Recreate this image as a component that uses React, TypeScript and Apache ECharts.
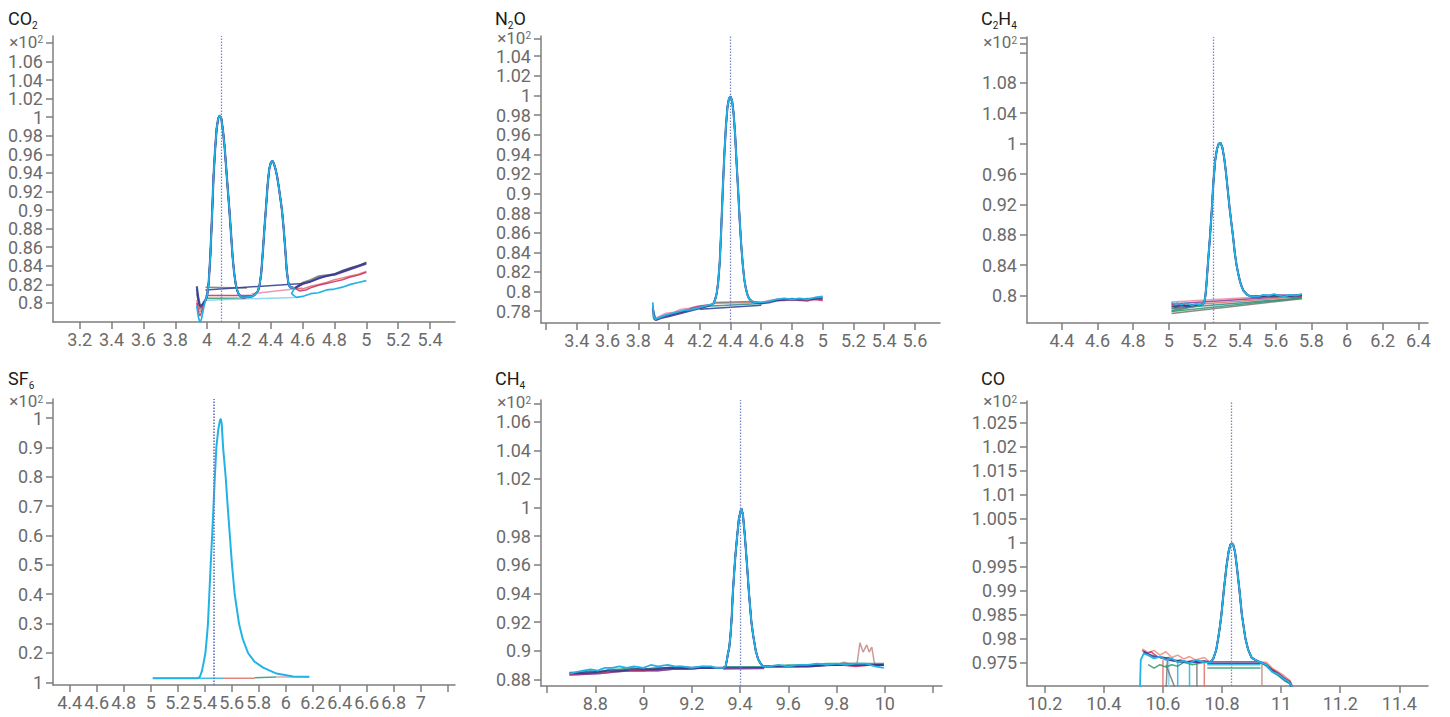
import React, { useEffect, useRef } from 'react';
import * as echarts from 'echarts';

type P = [number, number];

// ---------------- CO2 ----------------
const co2XTicks = [3.2, 3.4, 3.6, 3.8, 4, 4.2, 4.4, 4.6, 4.8, 5, 5.2, 5.4];
const co2XLabels = [3.2, 3.4, 3.6, 3.8, 4, 4.2, 4.4, 4.6, 4.8, 5, 5.2, 5.4];
const co2YLabels = [0.8, 0.82, 0.84, 0.86, 0.88, 0.9, 0.92, 0.94, 0.96, 0.98, 1, 1.02, 1.04, 1.06];
const co2YExtraTicks: number[] = [];
const co2Exp = 1.08;
const co2Marker = 4.088;
const co2Peak: P[] = [[3.99,0.803],[4.0,0.808],[4.01,0.822],[4.02,0.85],[4.03,0.89],[4.04,0.935],[4.05,0.965],[4.06,0.988],[4.07,0.999],[4.08,1.002],[4.09,0.998],[4.1,0.985],[4.11,0.968],[4.12,0.945],[4.13,0.922],[4.14,0.9],[4.15,0.875],[4.16,0.85],[4.17,0.832],[4.18,0.82],[4.19,0.813],[4.2,0.809],[4.22,0.806],[4.24,0.806],[4.26,0.807],[4.28,0.807],[4.3,0.809],[4.32,0.813],[4.33,0.82],[4.34,0.832],[4.35,0.855],[4.36,0.88],[4.37,0.903],[4.38,0.927],[4.39,0.944],[4.4,0.951],[4.41,0.953],[4.42,0.95],[4.43,0.944],[4.44,0.936],[4.45,0.925],[4.46,0.913],[4.47,0.9],[4.48,0.882],[4.49,0.86],[4.5,0.835],[4.51,0.822],[4.52,0.817],[4.55,0.816]];
const co2HeadNavy: P[] = [[3.935,0.818],[3.945,0.805],[3.955,0.797],[3.97,0.798],[3.98,0.801]];
const co2HeadCyan: P[] = [[3.935,0.797],[3.945,0.785],[3.955,0.779],[3.965,0.783],[3.98,0.796]];
const co2HeadCrimson: P[] = [[3.935,0.8],[3.945,0.79],[3.955,0.786],[3.965,0.79],[3.98,0.799]];
const co2HeadGrey: P[] = [[3.935,0.81],[3.945,0.8],[3.955,0.793],[3.97,0.797],[3.98,0.8]];
const co2HeadPurple: P[] = [[3.935,0.815],[3.95,0.798],[3.965,0.795],[3.98,0.8]];
const co2HeadRed: P[] = [[3.935,0.803],[3.95,0.79],[3.965,0.792],[3.98,0.8]];
const co2TailNavy: P[] = [[4.6,0.821],[4.65,0.823],[4.7,0.827],[4.75,0.829],[4.8,0.831],[4.85,0.834],[4.9,0.837],[4.95,0.84],[5.0,0.843]];
const co2TailGrey: P[] = [[4.6,0.822],[4.65,0.825],[4.7,0.829],[4.75,0.83],[4.8,0.831],[4.85,0.835],[4.9,0.838],[4.95,0.84],[5.0,0.844]];
const co2TailPurple: P[] = [[4.6,0.82],[4.65,0.823],[4.7,0.826],[4.75,0.829],[4.8,0.83],[4.85,0.833],[4.9,0.836],[4.95,0.839],[5.0,0.842]];
const co2TailCrimson: P[] = [[4.58,0.813],[4.62,0.814],[4.66,0.817],[4.7,0.819],[4.75,0.821],[4.8,0.823],[4.85,0.825],[4.9,0.828],[4.95,0.83],[5.0,0.833]];
const co2TailRed: P[] = [[4.6,0.815],[4.65,0.818],[4.7,0.82],[4.75,0.822],[4.8,0.825],[4.85,0.827],[4.9,0.829],[4.95,0.831],[5.0,0.834]];
const co2TailCyan: P[] = [[4.53,0.81],[4.56,0.806],[4.6,0.807],[4.65,0.81],[4.7,0.811],[4.75,0.814],[4.8,0.815],[4.85,0.817],[4.9,0.82],[4.95,0.822],[5.0,0.824]];
const co2BaseGrey: P[] = [[3.99,0.817],[4.25,0.816]];
const co2BaseNavy: P[] = [[3.99,0.814],[4.6,0.821]];
const co2BaseCrimson: P[] = [[3.99,0.808],[4.3,0.808]];
const co2BaseGreen: P[] = [[3.99,0.805],[4.22,0.805]];
const co2BaseCyan: P[] = [[3.99,0.803],[4.55,0.806]];
const co2BasePink: P[] = [[4.28,0.81],[4.6,0.816]];

// ---------------- N2O ----------------
const n2oXTicks = [3.2, 3.4, 3.6, 3.8, 4, 4.2, 4.4, 4.6, 4.8, 5, 5.2, 5.4, 5.6];
const n2oXLabels = [3.4, 3.6, 3.8, 4, 4.2, 4.4, 4.6, 4.8, 5, 5.2, 5.4, 5.6];
const n2oYLabels = [0.78, 0.8, 0.82, 0.84, 0.86, 0.88, 0.9, 0.92, 0.94, 0.96, 0.98, 1, 1.02, 1.04];
const n2oYExtraTicks: number[] = [];
const n2oExp = 1.058;
const n2oMarker = 4.4;
const n2oPeak: P[] = [[4.28,0.787],[4.29,0.788],[4.3,0.792],[4.31,0.798],[4.32,0.81],[4.33,0.83],[4.34,0.865],[4.35,0.905],[4.36,0.94],[4.37,0.968],[4.38,0.988],[4.39,0.997],[4.4,0.999],[4.41,0.995],[4.42,0.982],[4.43,0.96],[4.44,0.93],[4.45,0.902],[4.46,0.872],[4.47,0.847],[4.48,0.827],[4.49,0.812],[4.5,0.803],[4.51,0.797],[4.52,0.793],[4.54,0.79],[4.56,0.789]];
const n2oHeadCyan: P[] = [[3.894,0.789],[3.9,0.775],[3.91,0.772],[3.93,0.773],[3.96,0.775],[4.0,0.777],[4.05,0.779],[4.1,0.781],[4.15,0.782],[4.2,0.784],[4.25,0.786]];
const n2oHeadCrimson: P[] = [[3.894,0.786],[3.9,0.774],[3.92,0.771],[3.95,0.774],[4.0,0.776],[4.05,0.778],[4.1,0.78],[4.15,0.783],[4.2,0.785],[4.25,0.786]];
const n2oHeadPink: P[] = [[3.894,0.784],[3.91,0.773],[3.94,0.775],[3.98,0.778],[4.03,0.779],[4.08,0.782],[4.13,0.783],[4.18,0.785],[4.23,0.786]];
const n2oHeadNavy: P[] = [[3.894,0.783],[3.91,0.771],[3.95,0.773],[4.0,0.775],[4.05,0.777],[4.1,0.779],[4.15,0.781],[4.2,0.783],[4.25,0.785]];
const n2oHeadGreen: P[] = [[3.894,0.782],[3.9,0.772],[3.93,0.773],[3.97,0.776],[4.02,0.777],[4.07,0.779],[4.12,0.781],[4.17,0.783],[4.22,0.784]];
const n2oTailCyan: P[] = [[4.6,0.789],[4.65,0.79],[4.7,0.792],[4.75,0.793],[4.8,0.792],[4.85,0.793],[4.9,0.792],[4.95,0.794],[5.0,0.795]];
const n2oTailCrimson: P[] = [[4.6,0.788],[4.65,0.79],[4.7,0.791],[4.75,0.791],[4.8,0.792],[4.85,0.791],[4.9,0.791],[4.95,0.792],[5.0,0.791]];
const n2oTailPink: P[] = [[4.6,0.789],[4.65,0.791],[4.7,0.792],[4.75,0.793],[4.8,0.791],[4.85,0.792],[4.9,0.79],[4.95,0.793],[5.0,0.792]];
const n2oTailNavy: P[] = [[4.6,0.788],[4.65,0.789],[4.7,0.791],[4.75,0.792],[4.8,0.792],[4.85,0.792],[4.9,0.792],[4.95,0.793],[5.0,0.793]];
const n2oTailGreen: P[] = [[4.6,0.789],[4.65,0.79],[4.7,0.792],[4.75,0.792],[4.8,0.793],[4.85,0.792],[4.9,0.793],[4.95,0.793],[5.0,0.794]];
const n2oBaseSalmon: P[] = [[4.29,0.788],[4.55,0.789]];
const n2oBaseNavy: P[] = [[4.2,0.782],[4.6,0.786]];
const n2oBaseTeal: P[] = [[4.25,0.785],[4.6,0.788]];
const n2oBaseGrey: P[] = [[4.3,0.789],[4.55,0.79]];

// ---------------- C2H4 ----------------
const c2h4XTicks = [4.4, 4.6, 4.8, 5, 5.2, 5.4, 5.6, 5.8, 6, 6.2, 6.4];
const c2h4XLabels = [4.4, 4.6, 4.8, 5, 5.2, 5.4, 5.6, 5.8, 6, 6.2, 6.4];
const c2h4YLabels = [0.8, 0.84, 0.88, 0.92, 0.96, 1, 1.04, 1.08];
const c2h4YExtraTicks = [1.12, 1.139];
const c2h4Exp = 1.132;
const c2h4Marker = 5.248;
const c2h4Peak: P[] = [[5.19,0.789],[5.2,0.792],[5.205,0.8],[5.21,0.812],[5.22,0.845],[5.23,0.875],[5.24,0.91],[5.25,0.95],[5.26,0.978],[5.27,0.993],[5.28,1.0],[5.29,1.001],[5.3,0.995],[5.31,0.982],[5.32,0.963],[5.33,0.94],[5.34,0.917],[5.35,0.897],[5.36,0.878],[5.37,0.856],[5.38,0.84],[5.39,0.828],[5.4,0.818],[5.41,0.811],[5.42,0.806],[5.44,0.801],[5.46,0.799]];
const c2h4HeadCyan: P[] = [[5.015,0.791],[5.03,0.789],[5.05,0.79],[5.07,0.788],[5.09,0.79],[5.11,0.789],[5.13,0.787],[5.15,0.789],[5.17,0.788]];
const c2h4HeadNavy: P[] = [[5.015,0.786],[5.04,0.785],[5.07,0.787],[5.1,0.786],[5.13,0.787],[5.16,0.788],[5.18,0.788]];
const c2h4HeadCrimson: P[] = [[5.015,0.789],[5.04,0.787],[5.07,0.789],[5.1,0.787],[5.13,0.788],[5.16,0.787],[5.18,0.788]];
const c2h4HeadGrey: P[] = [[5.015,0.783],[5.04,0.782],[5.08,0.784],[5.12,0.785],[5.16,0.787],[5.18,0.788]];
const c2h4HeadGreen: P[] = [[5.015,0.78],[5.05,0.781],[5.09,0.783],[5.13,0.785],[5.17,0.787]];
const c2h4TailCyan: P[] = [[5.5,0.799],[5.53,0.801],[5.56,0.8],[5.59,0.802],[5.62,0.8],[5.65,0.799],[5.68,0.801],[5.71,0.8],[5.747,0.802]];
const c2h4TailNavy: P[] = [[5.5,0.799],[5.55,0.8],[5.6,0.8],[5.65,0.8],[5.7,0.8],[5.747,0.801]];
const c2h4TailCrimson: P[] = [[5.5,0.8],[5.55,0.799],[5.6,0.801],[5.65,0.8],[5.7,0.799],[5.747,0.8]];
const c2h4TailGrey: P[] = [[5.5,0.798],[5.55,0.798],[5.6,0.799],[5.65,0.799],[5.7,0.798],[5.747,0.798]];
const c2h4TailGreen: P[] = [[5.5,0.798],[5.55,0.799],[5.6,0.799],[5.65,0.8],[5.7,0.799],[5.747,0.799]];
const c2h4BasePink: P[] = [[5.015,0.7916],[5.747,0.8016]];
const c2h4BasePurple: P[] = [[5.015,0.789],[5.747,0.8]];
const c2h4BaseRed: P[] = [[5.015,0.786],[5.747,0.799]];
const c2h4BaseTeal: P[] = [[5.015,0.783],[5.747,0.797]];
const c2h4BaseGrey: P[] = [[5.015,0.7765],[5.747,0.796]];
const c2h4BaseGreen: P[] = [[5.015,0.779],[5.747,0.797]];

// ---------------- SF6 ----------------
const sf6XTicks = [4.4, 4.6, 4.8, 5, 5.2, 5.4, 5.6, 5.8, 6, 6.2, 6.4, 6.6, 6.8, 7, 7.2];
const sf6XLabels = [4.4, 4.6, 4.8, 5, 5.2, 5.4, 5.6, 5.8, 6, 6.2, 6.4, 6.6, 6.8, 7];
const sf6YLabels = [0.1, 0.2, 0.3, 0.4, 0.5, 0.6, 0.7, 0.8, 0.9, 1];
const sf6YText = ['1', '0.2', '0.3', '0.4', '0.5', '0.6', '0.7', '0.8', '0.9', '1'];
const sf6YExtraTicks: number[] = [];
const sf6Exp = 1.053;
const sf6Marker = 5.474;
const sf6Peak: P[] = [[5.35,0.114],[5.365,0.12],[5.38,0.14],[5.395,0.175],[5.405,0.2],[5.415,0.25],[5.424,0.3],[5.434,0.4],[5.444,0.5],[5.455,0.6],[5.465,0.7],[5.475,0.8],[5.486,0.9],[5.5,0.96],[5.512,0.99],[5.519,0.998],[5.526,0.98],[5.536,0.9],[5.555,0.8],[5.57,0.7],[5.586,0.6],[5.602,0.5],[5.622,0.4],[5.654,0.3],[5.68,0.25],[5.721,0.2],[5.77,0.17],[5.833,0.15],[5.932,0.13],[6.056,0.12],[6.175,0.119]];
const sf6Head: P[] = [[5.015,0.114],[5.2,0.114]];
const sf6BaseCyan: P[] = [[5.015,0.114],[5.535,0.114]];
const sf6BaseRed: P[] = [[5.535,0.1143],[5.77,0.1143]];
const sf6BaseGreen: P[] = [[5.77,0.116],[5.93,0.118]];
const sf6BasePink: P[] = [[5.93,0.118],[6.175,0.118]];

// ---------------- CH4 ----------------
const ch4XTicks = [8.6, 8.8, 9, 9.2, 9.4, 9.6, 9.8, 10, 10.2];
const ch4XLabels = [8.8, 9, 9.2, 9.4, 9.6, 9.8, 10];
const ch4YLabels = [0.88, 0.9, 0.92, 0.94, 0.96, 0.98, 1, 1.02, 1.04, 1.06];
const ch4YExtraTicks: number[] = [];
const ch4Exp = 1.0729;
const ch4Marker = 9.404;
const ch4Peak: P[] = [[9.33,0.888],[9.34,0.889],[9.345,0.893],[9.35,0.898],[9.355,0.902],[9.36,0.91],[9.365,0.922],[9.37,0.94],[9.375,0.953],[9.38,0.965],[9.388,0.98],[9.395,0.992],[9.405,0.9995],[9.412,0.995],[9.42,0.98],[9.428,0.962],[9.437,0.94],[9.447,0.92],[9.455,0.91],[9.465,0.9],[9.475,0.894],[9.485,0.891],[9.495,0.889]];
const ch4HeadCyan: P[] = [[8.693,0.884],[8.72,0.885],[8.75,0.886],[8.78,0.887],[8.81,0.886],[8.84,0.888],[8.87,0.888],[8.9,0.889],[8.93,0.888],[8.96,0.889],[9.0,0.888],[9.03,0.89],[9.06,0.889],[9.1,0.89],[9.13,0.889],[9.16,0.889],[9.2,0.888],[9.24,0.889],[9.28,0.889],[9.3,0.888]];
const ch4HeadCrimson: P[] = [[8.693,0.8835],[8.73,0.884],[8.77,0.884],[8.81,0.885],[8.85,0.885],[8.9,0.886],[8.95,0.886],[9.0,0.886],[9.05,0.887],[9.1,0.887],[9.15,0.888],[9.2,0.887],[9.25,0.888],[9.3,0.888]];
const ch4HeadGreen: P[] = [[8.693,0.884],[8.74,0.885],[8.78,0.886],[8.82,0.885],[8.86,0.887],[8.9,0.887],[8.95,0.888],[9.0,0.887],[9.05,0.888],[9.1,0.888],[9.15,0.889],[9.2,0.888],[9.25,0.889],[9.3,0.888]];
const ch4HeadNavy: P[] = [[8.693,0.8845],[8.75,0.8845],[8.8,0.885],[8.85,0.886],[8.9,0.886],[8.95,0.887],[9.0,0.887],[9.05,0.887],[9.1,0.888],[9.15,0.888],[9.2,0.888],[9.25,0.888],[9.3,0.888]];
const ch4HeadPurple: P[] = [[8.693,0.883],[8.76,0.8835],[8.82,0.884],[8.88,0.885],[8.94,0.886],[9.0,0.886],[9.06,0.886],[9.12,0.887],[9.18,0.887],[9.24,0.888],[9.3,0.888]];
const ch4TailCyan: P[] = [[9.52,0.889],[9.56,0.89],[9.6,0.889],[9.64,0.89],[9.68,0.89],[9.72,0.891],[9.76,0.89],[9.8,0.891],[9.84,0.89],[9.88,0.891],[9.92,0.891],[9.96,0.889],[9.996,0.888]];
const ch4TailCrimson: P[] = [[9.52,0.889],[9.58,0.889],[9.64,0.889],[9.7,0.89],[9.76,0.89],[9.82,0.89],[9.88,0.889],[9.94,0.89],[9.996,0.89]];
const ch4TailGreen: P[] = [[9.52,0.889],[9.6,0.89],[9.68,0.89],[9.76,0.891],[9.84,0.891],[9.92,0.891],[9.996,0.891]];
const ch4TailNavy: P[] = [[9.52,0.889],[9.6,0.889],[9.68,0.889],[9.76,0.89],[9.84,0.89],[9.92,0.89],[9.996,0.89]];
const ch4TailPurple: P[] = [[9.52,0.889],[9.6,0.889],[9.7,0.889],[9.8,0.89],[9.9,0.89],[9.996,0.89]];
const ch4TailRose: P[] = [[9.52,0.889],[9.6,0.889],[9.7,0.89],[9.8,0.89],[9.83,0.892],[9.85,0.891],[9.885,0.891],[9.897,0.9056],[9.91,0.899],[9.925,0.904],[9.935,0.899],[9.946,0.9024],[9.955,0.893],[9.96,0.89],[9.996,0.891]];
const ch4BaseTeal: P[] = [[9.33,0.8885],[9.5,0.8885]];
const ch4BaseNavy: P[] = [[9.33,0.8878],[9.5,0.888]];
const ch4BasePurple: P[] = [[9.33,0.8872],[9.5,0.8875]];

// ---------------- CO ----------------
const coXTicks = [10.2, 10.4, 10.6, 10.8, 11, 11.2, 11.4];
const coXLabels = [10.2, 10.4, 10.6, 10.8, 11, 11.2, 11.4];
const coYLabels = [0.975, 0.98, 0.985, 0.99, 0.995, 1, 1.005, 1.01, 1.015, 1.02, 1.025];
const coYExtraTicks: number[] = [];
const coExp = 1.0292;
const coMarker = 10.828;
const coPeak: P[] = [[10.76,0.975],[10.77,0.9757],[10.78,0.9775],[10.787,0.98],[10.793,0.9825],[10.798,0.985],[10.806,0.99],[10.815,0.995],[10.822,0.998],[10.828,0.9995],[10.833,0.9998],[10.838,0.9995],[10.844,0.998],[10.85,0.995],[10.859,0.99],[10.867,0.985],[10.873,0.9825],[10.879,0.98],[10.888,0.9777],[10.9,0.976],[10.912,0.9755],[10.93,0.975]];
const coHeadCyan: P[] = [[10.52,0.965],[10.525,0.9755],[10.535,0.9768],[10.55,0.9765],[10.57,0.9758],[10.59,0.9762],[10.61,0.9755],[10.63,0.9758],[10.65,0.975],[10.67,0.9753],[10.69,0.9748],[10.71,0.9755],[10.74,0.975]];
const coHeadCrimson: P[] = [[10.53,0.9775],[10.545,0.9768],[10.56,0.9772],[10.58,0.9762],[10.6,0.9758],[10.62,0.976],[10.64,0.9752],[10.66,0.9755],[10.68,0.975],[10.7,0.9754],[10.72,0.975],[10.74,0.9752]];
const coHeadSalmon: P[] = [[10.53,0.9778],[10.55,0.977],[10.57,0.9775],[10.59,0.9765],[10.61,0.9772],[10.63,0.976],[10.65,0.9765],[10.67,0.9757],[10.69,0.9762],[10.71,0.9755],[10.74,0.976]];
const coHeadGreen: P[] = [[10.55,0.9745],[10.57,0.9738],[10.59,0.9745],[10.61,0.974],[10.63,0.9745],[10.65,0.9742],[10.67,0.975],[10.7,0.9745],[10.74,0.975]];
const coHeadNavy: P[] = [[10.535,0.9772],[10.55,0.9767],[10.57,0.9762],[10.6,0.976],[10.63,0.9755],[10.66,0.9752],[10.7,0.975],[10.74,0.9752]];
const coHeadGrey: P[] = [[10.61,0.968],[10.615,0.9755],[10.64,0.9752],[10.67,0.975],[10.7,0.9752],[10.74,0.975]];
const coTailCyan: P[] = [[10.95,0.9745],[10.97,0.973],[10.99,0.9725],[11.01,0.9715],[11.025,0.971],[11.035,0.9702],[11.04,0.969]];
const coTailCrimson: P[] = [[10.95,0.9745],[10.97,0.9735],[10.99,0.9728],[11.01,0.9718],[11.03,0.971],[11.045,0.969]];
const coTailSalmon: P[] = [[10.95,0.975],[10.97,0.9738],[10.99,0.973],[11.01,0.9722],[11.03,0.9712],[11.045,0.969]];
const coTailGreen: P[] = [[10.95,0.9742],[10.97,0.973],[10.99,0.9722],[11.01,0.9712],[11.03,0.9705],[11.04,0.969]];
const coTailNavy: P[] = [[10.95,0.9745],[10.97,0.9732],[10.99,0.9725],[11.01,0.9715],[11.03,0.9707],[11.04,0.969]];
const coTailGrey: P[] = [[10.95,0.9745],[10.98,0.973],[11.0,0.972],[11.03,0.9708],[11.04,0.969]];
const coDropRed1: P[] = [[10.6,0.965],[10.6,0.9755]];
const coDropLightBlue: P[] = [[10.62,0.965],[10.62,0.9752]];
const coDropCyan1: P[] = [[10.65,0.965],[10.65,0.975]];
const coDropCyan2: P[] = [[10.69,0.965],[10.69,0.9748]];
const coDropGrey: P[] = [[10.715,0.965],[10.715,0.975]];
const coDropRed2: P[] = [[10.74,0.965],[10.74,0.9752]];
const coDropRose: P[] = [[10.935,0.965],[10.935,0.975]];
const coDiagGrey: P[] = [[10.61,0.9745],[10.64,0.9698]];
const coBaseMagenta: P[] = [[10.75,0.9751],[10.93,0.9751]];
const coBaseGreen: P[] = [[10.75,0.9738],[10.93,0.9738]];
const coBaseCyan: P[] = [[10.75,0.9745],[10.93,0.9745]];
const coBaseNavy: P[] = [[10.75,0.9748],[10.93,0.9748]];

// ---------------- styling ----------------
const C = {
  navy: '#2c3a8e', cyan: '#22b3e6', crimson: '#c62a63', red: '#e0706a', grey: '#767676',
  green: '#2a9a6c', purple: '#7a3d9a', rose: '#c48888', pink: '#e58aa8', teal: '#2a8a8c',
  lightblue: '#7fd0f0', salmon: '#ec8a7a', magenta: '#c0308a',
};
const FONT = 'Roboto';
const LABEL_COLOR = '#6b6b6b';
const AXIS_COLOR = '#7e7e7e';

const fmt = (v: number) => String(parseFloat(v.toFixed(4)));
const cat = (...parts: P[][]): P[] => ([] as P[]).concat(...parts);

type Trace = { data: P[]; color: string; width?: number; opacity?: number };
type Panel = {
  title: string; titleLeft: number; titleTop: number;
  grid: { left: number; top: number; width: number; height: number };
  xMin: number; xMax: number; yMin: number; yMax: number;
  xTicks: number[]; xLabels: number[]; yLabels: number[]; yText?: string[];
  yExtraTicks: number[]; exp: number; marker: number; markerWidth?: number;
  base: Trace[]; traces: Trace[];
};

const panels: Panel[] = [
  {
    title: '{m|CO}{s|2}', titleLeft: 8, titleTop: 6,
    grid: { left: 53, top: 36, width: 402, height: 286 },
    xMin: 3.032, xMax: 5.557, yMin: 0.7795, yMax: 1.0875,
    xTicks: co2XTicks, xLabels: co2XLabels, yLabels: co2YLabels, yExtraTicks: co2YExtraTicks,
    exp: co2Exp, marker: co2Marker,
    base: [
      { data: co2BaseGrey, color: C.grey }, { data: co2BaseNavy, color: C.navy },
      { data: co2BaseCrimson, color: C.crimson }, { data: co2BaseGreen, color: C.green },
      { data: co2BaseCyan, color: C.lightblue }, { data: co2BasePink, color: C.pink },
    ],
    traces: [
      { data: cat(co2HeadGrey, co2Peak, co2TailGrey), color: C.grey },
      { data: cat(co2HeadPurple, co2Peak, co2TailPurple), color: C.purple },
      { data: cat(co2HeadRed, co2Peak, co2TailRed), color: C.red },
      { data: cat(co2HeadCrimson, co2Peak, co2TailCrimson), color: C.crimson },
      { data: cat(co2HeadNavy, co2Peak, co2TailNavy), color: C.navy, width: 2.2 },
      { data: cat(co2HeadCyan, co2Peak, co2TailCyan), color: C.cyan, width: 1.7, opacity: 1 },
    ],
  },
  {
    title: '{m|N}{s|2}{m|O}', titleLeft: 495, titleTop: 6,
    grid: { left: 541, top: 36, width: 399, height: 287 },
    xMin: 3.167, xMax: 5.763, yMin: 0.768, yMax: 1.0606,
    xTicks: n2oXTicks, xLabels: n2oXLabels, yLabels: n2oYLabels, yExtraTicks: n2oYExtraTicks,
    exp: n2oExp, marker: n2oMarker,
    base: [
      { data: n2oBaseSalmon, color: C.salmon }, { data: n2oBaseNavy, color: C.navy },
      { data: n2oBaseTeal, color: C.teal }, { data: n2oBaseGrey, color: C.grey },
    ],
    traces: [
      { data: cat(n2oHeadGreen, n2oPeak, n2oTailGreen), color: C.green },
      { data: cat(n2oHeadPink, n2oPeak, n2oTailPink), color: C.pink },
      { data: cat(n2oHeadCrimson, n2oPeak, n2oTailCrimson), color: C.crimson },
      { data: cat(n2oHeadNavy, n2oPeak, n2oTailNavy), color: C.navy, width: 2.1 },
      { data: cat(n2oHeadCyan, n2oPeak, n2oTailCyan), color: C.cyan, width: 1.8, opacity: 1 },
    ],
  },
  {
    title: '{m|C}{s|2}{m|H}{s|4}', titleLeft: 981, titleTop: 6,
    grid: { left: 1027, top: 37, width: 401, height: 286 },
    xMin: 4.204, xMax: 6.454, yMin: 0.764, yMax: 1.1403,
    xTicks: c2h4XTicks, xLabels: c2h4XLabels, yLabels: c2h4YLabels, yExtraTicks: c2h4YExtraTicks,
    exp: c2h4Exp, marker: c2h4Marker,
    base: [
      { data: c2h4BasePink, color: C.pink }, { data: c2h4BasePurple, color: C.purple },
      { data: c2h4BaseRed, color: C.red }, { data: c2h4BaseTeal, color: C.teal },
      { data: c2h4BaseGrey, color: C.grey }, { data: c2h4BaseGreen, color: C.green },
    ],
    traces: [
      { data: cat(c2h4HeadGreen, c2h4Peak, c2h4TailGreen), color: C.green },
      { data: cat(c2h4HeadGrey, c2h4Peak, c2h4TailGrey), color: C.grey },
      { data: cat(c2h4HeadCrimson, c2h4Peak, c2h4TailCrimson), color: C.crimson },
      { data: cat(c2h4HeadNavy, c2h4Peak, c2h4TailNavy), color: C.navy, width: 2.1 },
      { data: cat(c2h4HeadCyan, c2h4Peak, c2h4TailCyan), color: C.cyan, width: 1.8, opacity: 1 },
    ],
  },
  {
    title: '{m|SF}{s|6}', titleLeft: 8, titleTop: 366,
    grid: { left: 53, top: 399, width: 402, height: 286 },
    xMin: 4.276, xMax: 7.254, yMin: 0.091, yMax: 1.0648,
    xTicks: sf6XTicks, xLabels: sf6XLabels, yLabels: sf6YLabels, yText: sf6YText, yExtraTicks: sf6YExtraTicks,
    exp: sf6Exp, marker: sf6Marker, markerWidth: 2,
    base: [
      { data: sf6BaseCyan, color: C.cyan }, { data: sf6BaseRed, color: C.red },
      { data: sf6BaseGreen, color: C.green }, { data: sf6BasePink, color: C.pink },
    ],
    traces: [
      { data: cat(sf6Head, sf6Peak), color: C.cyan, width: 2, opacity: 1 },
    ],
  },
  {
    title: '{m|CH}{s|4}', titleLeft: 495, titleTop: 366,
    grid: { left: 541, top: 400, width: 401, height: 286 },
    xMin: 8.575, xMax: 10.237, yMin: 0.8753, yMax: 1.0752,
    xTicks: ch4XTicks, xLabels: ch4XLabels, yLabels: ch4YLabels, yExtraTicks: ch4YExtraTicks,
    exp: ch4Exp, marker: ch4Marker,
    base: [
      { data: ch4BaseTeal, color: C.teal, width: 2.4 }, { data: ch4BaseNavy, color: C.navy },
      { data: ch4BasePurple, color: C.purple },
    ],
    traces: [
      { data: cat(ch4HeadPurple, ch4Peak, ch4TailRose), color: C.rose },
      { data: cat(ch4HeadPurple, ch4Peak, ch4TailPurple), color: C.purple },
      { data: cat(ch4HeadGreen, ch4Peak, ch4TailGreen), color: C.green },
      { data: cat(ch4HeadCrimson, ch4Peak, ch4TailCrimson), color: C.crimson },
      { data: cat(ch4HeadNavy, ch4Peak, ch4TailNavy), color: C.navy, width: 2.1 },
      { data: cat(ch4HeadCyan, ch4Peak, ch4TailCyan), color: C.cyan, width: 1.8, opacity: 1 },
    ],
  },
  {
    title: '{m|CO}', titleLeft: 981, titleTop: 366,
    grid: { left: 1027, top: 401, width: 401, height: 285 },
    xMin: 10.14, xMax: 11.497, yMin: 0.97006, yMax: 1.0295,
    xTicks: coXTicks, xLabels: coXLabels, yLabels: coYLabels, yExtraTicks: coYExtraTicks,
    exp: coExp, marker: coMarker,
    base: [
      { data: coDropRed1, color: C.red }, { data: coDropLightBlue, color: C.lightblue },
      { data: coDropCyan1, color: C.cyan }, { data: coDropCyan2, color: C.cyan },
      { data: coDropGrey, color: C.grey }, { data: coDropRed2, color: C.red },
      { data: coDropRose, color: C.rose }, { data: coDiagGrey, color: C.grey },
      { data: coBaseMagenta, color: C.magenta }, { data: coBaseGreen, color: C.green },
      { data: coBaseCyan, color: C.cyan }, { data: coBaseNavy, color: C.navy },
    ],
    traces: [
      { data: cat(coHeadGrey, coPeak, coTailGrey), color: C.grey },
      { data: cat(coHeadGreen, coPeak, coTailGreen), color: C.green },
      { data: cat(coHeadSalmon, coPeak, coTailSalmon), color: C.salmon },
      { data: cat(coHeadCrimson, coPeak, coTailCrimson), color: C.crimson },
      { data: cat(coHeadNavy, coPeak, coTailNavy), color: C.navy, width: 2.1 },
      { data: cat(coHeadCyan, coPeak, coTailCyan), color: C.cyan, width: 1.8, opacity: 1 },
    ],
  },
];

const richMain = { fontSize: 18, fontFamily: FONT, fontWeight: 'normal', color: '#1c1c1c', lineHeight: 24 };
const richSub = { fontSize: 10, fontFamily: FONT, fontWeight: 'normal', color: '#1c1c1c', lineHeight: 10, verticalAlign: 'bottom' };

function buildOption() {
  const grid: any[] = [];
  const xAxis: any[] = [];
  const yAxis: any[] = [];
  const series: any[] = [];
  const title: any[] = [];
  panels.forEach((p, i) => {
    title.push({
      text: p.title, left: p.titleLeft, top: p.titleTop, padding: 0,
      textStyle: { fontWeight: 'normal', fontFamily: FONT, rich: { m: richMain, s: richSub } },
    });
    grid.push({ ...p.grid, containLabel: false, outerBoundsMode: 'none' });
    const axisLineStyle = { color: AXIS_COLOR, width: 1.5 };
    xAxis.push({
      type: 'value', gridIndex: i, min: p.xMin, max: p.xMax,
      axisLine: { show: true, onZero: false, lineStyle: axisLineStyle },
      axisTick: { show: true, length: 7, lineStyle: axisLineStyle, customValues: p.xTicks },
      axisLabel: {
        customValues: p.xLabels, fontSize: 18, fontFamily: FONT, color: LABEL_COLOR, margin: 8,
        hideOverlap: false,
        formatter: (v: number) => fmt(v),
      },
      splitLine: { show: false },
    });
    const yTicks = [...p.yLabels, ...p.yExtraTicks, p.exp];
    yAxis.push({
      type: 'value', gridIndex: i, min: p.yMin, max: p.yMax,
      axisLine: { show: true, onZero: false, lineStyle: axisLineStyle },
      axisTick: { show: true, length: 7, lineStyle: axisLineStyle, customValues: yTicks },
      axisLabel: {
        customValues: p.yLabels, fontSize: 18, fontFamily: FONT, color: LABEL_COLOR, margin: 10,
        hideOverlap: false,
        formatter: (v: number) => {
          if (p.yText) {
            const k = p.yLabels.findIndex((u) => Math.abs(u - v) < 1e-6);
            if (k >= 0) return p.yText[k];
          }
          return fmt(v);
        },
      },
      splitLine: { show: false },
    });
    const mk = (t: Trace, z: number) => ({
      type: 'line', xAxisIndex: i, yAxisIndex: i, data: t.data,
      showSymbol: false, symbol: 'none', silent: true, clip: true, z,
      lineStyle: { color: t.color, width: t.width ?? 1.5, opacity: t.opacity ?? 0.85 },
      itemStyle: { color: t.color },
    });
    p.base.forEach((t) => series.push(mk(t, 2)));
    p.traces.forEach((t) => series.push(mk(t, 3)));
    series.push({
      type: 'line', xAxisIndex: i, yAxisIndex: i, data: [], silent: true, z: 5,
      markLine: {
        silent: true, symbol: ['none', 'none'], label: { show: false },
        lineStyle: { color: '#6a7cc6', width: p.markerWidth ?? 1.3, type: [1.5, 1.5], opacity: 0.9 },
        data: [{ xAxis: p.marker }],
      },
    });
  });
  return {
    animation: false,
    backgroundColor: '#ffffff',
    title, grid, xAxis, yAxis, series,
  };
}

// "×10²" exponent labels, placed at the exponent tick of each y axis via the chart's own scale
function buildExponentGraphics(chart: echarts.ECharts) {
  return panels.map((p, i) => {
    const y = chart.convertToPixel({ yAxisIndex: i } as any, p.exp) as unknown as number;
    const x = chart.convertToPixel({ xAxisIndex: i } as any, p.xMin) as unknown as number;
    return {
      type: 'text', silent: true, z: 10,
      x: x - 10, y: y - 1,
      style: {
        text: '{a|×10}{b|2}', align: 'right', verticalAlign: 'middle',
        rich: {
          a: { fontSize: 17, fontFamily: FONT, fill: LABEL_COLOR, color: LABEL_COLOR, lineHeight: 14 },
          b: { fontSize: 10, fontFamily: FONT, fill: LABEL_COLOR, color: LABEL_COLOR, lineHeight: 8, verticalAlign: 'top' },
        },
      },
    };
  });
}

export default function App() {
  const ref = useRef<HTMLDivElement>(null);
  useEffect(() => {
    if (!ref.current) return;
    const chart = echarts.init(ref.current, null, { renderer: 'svg' });
    chart.setOption(buildOption() as any);
    chart.setOption({ graphic: buildExponentGraphics(chart) } as any);
    return () => chart.dispose();
  }, []);
  return (
    <div
      ref={ref}
      style={{ position: 'absolute', left: 0, top: 0, width: 1450, height: 717, background: '#fff' }}
    />
  );
}
